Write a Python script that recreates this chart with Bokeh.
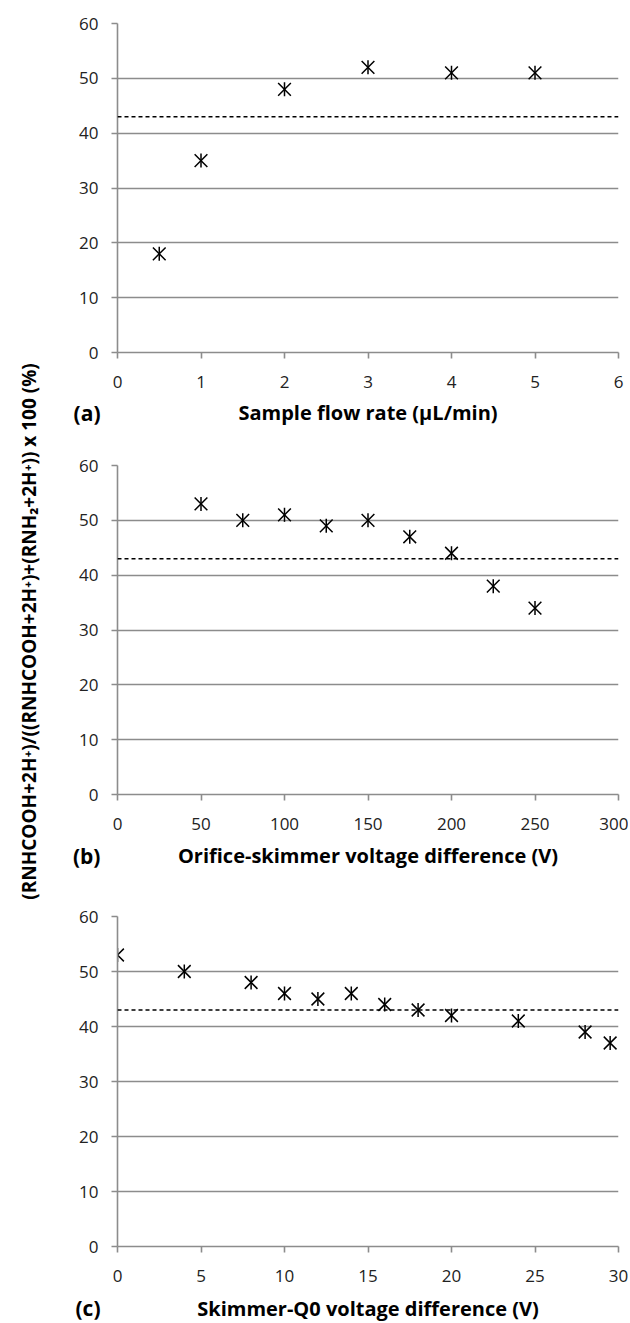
import math
from bokeh.plotting import figure
from bokeh.layouts import row, column
from bokeh.models import Range1d, FixedTicker, Span
from bokeh.embed import file_html
from bokeh.resources import INLINE
from bokeh.core.properties import value

# ---- data ----
flow_rate = [0.5, 1, 2, 3, 4, 5]
flow_ratio = [18, 35, 48, 52, 51, 51]

orifice_v = [50, 75, 100, 125, 150, 175, 200, 225, 250]
orifice_ratio = [53, 50, 51, 49, 50, 47, 44, 38, 34]

skimmer_v = [0, 4, 8, 10, 12, 14, 16, 18, 20, 24, 28, 29.5]
skimmer_ratio = [53, 50, 48, 46, 45, 46, 44, 43, 42, 41, 39, 37]

reference_level = 43
y_ticks = [0, 10, 20, 30, 40, 50, 60]
x_ticks_a = [0, 1, 2, 3, 4, 5, 6]
x_ticks_b = [0, 50, 100, 150, 200, 250, 300]
x_ticks_c = [0, 5, 10, 15, 20, 25, 30]

x_title_a = "Sample flow rate (\u03bcL/min)"
x_title_b = "Orifice-skimmer voltage difference (V)"
x_title_c = "Skimmer-Q0 voltage difference (V)"
y_title = "(RNHCOOH+2H\u207a)/((RNHCOOH+2H\u207a)+(RNH\u2082+2H\u207a)) x 100 (%)"
tags = ["(a)", "(b)", "(c)"]

FONT = "Open Sans"
GREY = "#8c8c8c"
LABEL_W = 60
PANEL_W = 568
FRAME_L = 57      # frame left inside panel figure
FRAME_R = 10      # border right
TOTAL_H = 1323


def make_panel(xs, ys, xticks, height, btop, bbottom):
    p = figure(width=PANEL_W, height=height, output_backend="svg",
               toolbar_location=None, title=None,
               x_range=Range1d(xticks[0], xticks[-1]),
               y_range=Range1d(y_ticks[0], y_ticks[-1]),
               min_border_left=FRAME_L, min_border_right=FRAME_R,
               min_border_top=btop, min_border_bottom=bbottom)
    p.outline_line_color = None
    p.background_fill_color = "white"
    p.border_fill_color = "white"
    p.xgrid.visible = False
    p.ygrid.grid_line_color = GREY
    p.ygrid.grid_line_width = 1.6
    p.ygrid.ticker = FixedTicker(ticks=y_ticks)

    for ax in (p.xaxis[0], p.yaxis[0]):
        ax.axis_line_color = GREY
        ax.axis_line_width = 1.6
        ax.major_tick_line_color = GREY
        ax.major_tick_line_width = 1.6
        ax.major_tick_out = 6
        ax.major_tick_in = 0
        ax.minor_tick_line_color = None
        ax.major_label_text_font = FONT
        ax.major_label_text_font_size = "17px"
        ax.major_label_text_color = "#222222"
    p.xaxis.ticker = FixedTicker(ticks=xticks)
    p.yaxis.ticker = FixedTicker(ticks=y_ticks)
    p.xaxis.major_label_standoff = 17
    p.yaxis.major_label_standoff = 13

    p.add_layout(Span(location=reference_level, dimension="width",
                      line_color="black", line_width=1.4, line_dash="4 3"))

    p.scatter(xs, ys, marker="x", size=18, line_color="black", line_width=1.5)
    p.scatter(xs, ys, marker="dash", angle=math.pi / 2, size=14,
              line_color="black", line_width=1.5)
    return p


def make_caption(tag, title, height):
    c = figure(width=PANEL_W, height=height, output_backend="svg",
               toolbar_location=None, title=None, x_axis_location=None,
               x_range=Range1d(0, 1), y_range=Range1d(0, 1),
               min_border=0, min_border_left=FRAME_L, min_border_right=FRAME_R)
    c.grid.visible = False
    c.outline_line_color = None
    ax = c.yaxis[0]
    ax.ticker = FixedTicker(ticks=[])
    ax.axis_line_color = None
    ax.major_tick_line_color = None
    ax.minor_tick_line_color = None
    ax.major_tick_out = 0
    ax.axis_label = tag
    ax.axis_label_orientation = "horizontal"
    ax.axis_label_text_font = FONT
    ax.axis_label_text_font_style = "bold"
    ax.axis_label_text_font_size = "21px"
    ax.axis_label_text_color = "black"
    ax.axis_label_standoff = 17
    c.text(x=[0.5], y=[0.5], text=[title],
           text_font=value(FONT), text_font_style="bold", text_font_size="20px",
           text_align="center", text_baseline="middle", text_color="black")
    return c


pa = make_panel(flow_rate, flow_ratio, x_ticks_a, 397, 23, 45)
ca = make_caption(tags[0], x_title_a, 30)
pb = make_panel(orifice_v, orifice_ratio, x_ticks_b, 413, 38, 46)
cb = make_caption(tags[1], x_title_b, 30)
pc = make_panel(skimmer_v, skimmer_ratio, x_ticks_c, 422, 46, 46)
cc = make_caption(tags[2], x_title_c, 31)

lab = figure(width=LABEL_W, height=TOTAL_H, output_backend="svg", toolbar_location=None,
             title=None, x_range=Range1d(0, LABEL_W), y_range=Range1d(0, TOTAL_H),
             min_border=0)
lab.axis.visible = False
lab.grid.visible = False
lab.outline_line_color = None
lab.text(x=[28], y=[TOTAL_H - 631], text=[y_title], angle=math.pi / 2,
         text_font=value(FONT), text_font_style="bold", text_font_size="19px",
         text_align="center", text_baseline="middle", text_color="black")

layout = row(lab, column(pa, ca, pb, cb, pc, cc, spacing=0), spacing=0)

open("out.html", "w").write(file_html(layout, INLINE))
